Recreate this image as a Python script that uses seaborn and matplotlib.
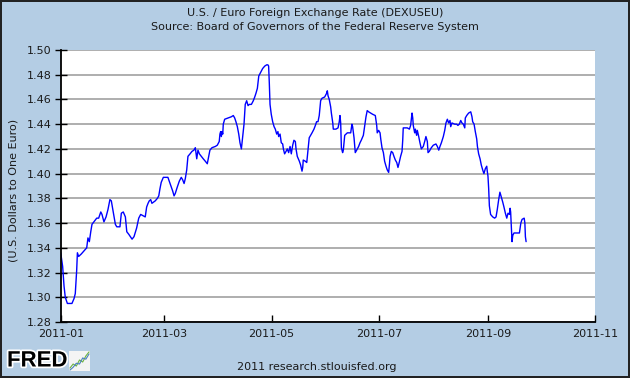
import numpy as np
import pandas as pd
import matplotlib
matplotlib.use("Agg")
import matplotlib.pyplot as plt
import matplotlib.dates as mdates
import matplotlib.patheffects as pe
import seaborn as sns

sns.set_theme(style="white")
plt.rcParams['font.family'] = ['DejaVu Sans']

# days since 2011-01-01 and the exchange rate
days = [
    0.0, 1.1, 1.9, 2.6, 3.8, 6.4, 7.6, 8.3, 9.1, 9.5, 10.2, 11.7, 13.6, 14.8, 15.5, 16.3,
    17.1, 17.8, 18.9, 20.5, 21.6, 22.8, 23.5, 24.6, 25.8, 26.9, 28.0, 28.8, 29.9, 31.1,
    31.9, 33.7, 34.5, 35.6, 36.8, 37.6, 38.7, 40.6, 41.7, 43.2, 44.4,
    45.5, 48.1, 48.9, 49.7, 50.4, 51.2, 51.9, 53.8, 55.0, 55.8, 56.5, 57.2, 58.4, 61.0,
    62.2, 62.9, 63.7, 64.5, 65.2, 66.3, 67.5, 68.6, 69.4, 70.2, 70.9, 71.7, 72.4, 73.6,
    74.7, 75.8, 76.6, 77.4, 78.1, 78.9, 80.0, 81.1, 82.3, 83.4, 84.2, 84.9, 86.1, 88.0, 89.1,
    90.2, 90.6, 91.0, 91.4, 91.8, 92.2, 92.5, 93.3, 95.2, 97.1, 98.2, 99.0, 99.7, 100.5,
    101.3, 102.0, 102.8, 103.5, 104.3, 105.0, 105.8, 106.6, 107.3, 108.5, 109.6, 110.4,
    111.1, 111.9, 112.7, 113.8, 114.9, 116.1, 117.2, 117.9, 118.3, 118.7, 119.1, 119.8,
    120.6, 121.4, 122.1, 122.9, 123.6, 124.0, 124.8, 125.5, 126.3, 126.7, 127.4, 128.2,
    128.9, 129.7, 130.5, 131.2, 132.0, 132.7, 133.5, 133.9, 134.6, 135.8,
    136.5, 137.3, 137.7, 138.0, 139.2, 140.0, 140.7, 141.4, 142.2, 143.0, 144.1, 144.9,
    145.6, 146.4, 147.1, 147.9, 148.7, 150.2, 151.3, 151.7, 152.1, 152.8, 153.6, 154.0,
    154.8, 155.1, 156.6, 157.8, 158.5, 158.9, 159.3, 159.7, 160.4, 160.8, 161.6, 163.1,
    163.9, 165.0, 165.7, 166.1, 166.9, 167.6, 168.4, 169.5, 170.3, 171.0, 172.2, 173.0,
    173.7, 174.4, 175.2, 176.4, 177.5, 179.0, 179.8, 180.1, 180.9,
    181.7, 182.1, 182.8, 183.6, 184.3, 185.1, 185.8, 186.6, 187.0, 187.4, 188.1, 188.9,
    189.6, 190.4, 191.2, 191.9, 192.6, 193.4, 194.2, 194.6, 194.9, 197.2, 198.4, 199.1,
    199.9, 200.3, 200.6, 201.4, 201.8, 202.5, 202.9, 203.7, 204.4, 205.2, 206.3, 207.1,
    207.8, 208.6, 209.0, 209.7, 210.9, 212.0, 213.5, 214.3, 215.1, 215.8, 216.6, 217.7,
    218.5, 219.2, 220.0, 220.7, 221.5, 221.9, 222.6, 224.2, 225.3, 226.0, 226.8,
    227.6, 228.3, 229.1, 229.9, 230.2, 231.0, 232.1, 233.3, 234.0, 234.4, 235.2, 235.9,
    236.7, 237.1, 237.8, 238.6, 239.3, 240.1, 240.8, 241.6, 242.4, 242.7, 243.1, 243.5,
    243.9, 244.6, 245.8, 246.9, 247.7, 248.4, 249.2, 249.9, 250.7, 251.5, 252.2, 253.0,
    253.8, 254.5, 255.3, 255.7, 256.0, 256.4, 256.8, 257.2, 257.9, 261.0, 261.4, 261.8,
    262.5, 263.7, 264.1, 264.4, 264.8,
]
rate = [
    1.336, 1.325, 1.309, 1.300, 1.295, 1.295, 1.299, 1.303, 1.322, 1.336, 1.333, 1.335, 1.338, 1.340, 1.348, 1.345,
    1.353, 1.359, 1.361, 1.364, 1.364, 1.369, 1.367, 1.361, 1.365, 1.371, 1.379, 1.378, 1.369, 1.359,
    1.357, 1.357, 1.368, 1.369, 1.365, 1.353, 1.351, 1.347, 1.349, 1.356, 1.364,
    1.367, 1.365, 1.373, 1.376, 1.378, 1.379, 1.376, 1.378, 1.380, 1.382, 1.388, 1.393, 1.397, 1.397,
    1.392, 1.389, 1.386, 1.382, 1.384, 1.389, 1.394, 1.397, 1.395, 1.392, 1.396, 1.403, 1.414, 1.416,
    1.418, 1.419, 1.421, 1.412, 1.419, 1.416, 1.414, 1.412, 1.410, 1.408, 1.414, 1.419, 1.421, 1.422, 1.423,
    1.426, 1.432, 1.434, 1.430, 1.434, 1.432, 1.440, 1.444, 1.445, 1.446, 1.447, 1.445, 1.442, 1.438,
    1.432, 1.425, 1.420, 1.429, 1.440, 1.456, 1.459, 1.455, 1.456, 1.456, 1.459, 1.462,
    1.465, 1.469, 1.479, 1.482, 1.485, 1.487, 1.488, 1.488, 1.487, 1.473, 1.456, 1.448,
    1.442, 1.438, 1.436, 1.432, 1.434, 1.430, 1.432, 1.425, 1.424, 1.420, 1.416, 1.418,
    1.420, 1.417, 1.422, 1.416, 1.423, 1.427, 1.426, 1.420, 1.414, 1.410,
    1.407, 1.402, 1.405, 1.411, 1.410, 1.409, 1.419, 1.429, 1.431, 1.433, 1.436, 1.439,
    1.442, 1.442, 1.447, 1.459, 1.461, 1.462, 1.465, 1.467, 1.463, 1.460, 1.454, 1.449,
    1.441, 1.436, 1.436, 1.437, 1.442, 1.447, 1.441, 1.421, 1.417, 1.419, 1.431, 1.433,
    1.433, 1.433, 1.440, 1.438, 1.429, 1.417, 1.419, 1.422, 1.425, 1.427, 1.431, 1.439,
    1.446, 1.451, 1.450, 1.449, 1.448, 1.447, 1.439, 1.433, 1.435,
    1.433, 1.428, 1.421, 1.417, 1.410, 1.406, 1.403, 1.401, 1.407, 1.414, 1.418, 1.417,
    1.414, 1.411, 1.409, 1.405, 1.409, 1.414, 1.418, 1.427, 1.437, 1.437, 1.436, 1.439,
    1.449, 1.445, 1.439, 1.433, 1.436, 1.431, 1.435, 1.430, 1.425, 1.420, 1.422, 1.426,
    1.430, 1.426, 1.417, 1.418, 1.421, 1.423, 1.424, 1.422, 1.419, 1.422, 1.425, 1.430,
    1.435, 1.441, 1.444, 1.441, 1.443, 1.438, 1.441, 1.440, 1.440, 1.439, 1.440,
    1.443, 1.441, 1.440, 1.437, 1.445, 1.447, 1.449, 1.450, 1.446, 1.442, 1.440, 1.434,
    1.428, 1.422, 1.416, 1.412, 1.407, 1.403, 1.400, 1.404, 1.406, 1.402, 1.398, 1.388,
    1.374, 1.367, 1.365, 1.364, 1.365, 1.371, 1.379, 1.385, 1.381, 1.377, 1.373, 1.368,
    1.364, 1.368, 1.367, 1.372, 1.369, 1.356, 1.345, 1.350, 1.352, 1.352, 1.356, 1.360,
    1.363, 1.364, 1.360, 1.349, 1.345,
]

yticks = np.arange(1.28, 1.501, 0.02)

# little chart icon next to the FRED logo
icon_x = [0, 1, 2, 3, 4, 5, 6]
icon_green = [1, 2, 1.5, 3, 2.5, 4, 5]
icon_blue = [0.5, 1.2, 2.2, 2, 3.5, 3.2, 4.5]

df = pd.DataFrame({
    'date': pd.Timestamp('2011-01-01') + pd.to_timedelta(days, unit='D'),
    'rate': rate,
})

bg = '#b4cde4'
txt = '#1a1a1a'
fig = plt.figure(figsize=(6.3, 3.78), dpi=100, facecolor=bg,
                 edgecolor='#222222', linewidth=1.5)
ax = fig.add_axes([60.7 / 630, 1 - 322 / 378, (595 - 60.7) / 630, 272 / 378])
ax.set_facecolor('white')

sns.lineplot(data=df, x='date', y='rate', ax=ax, color='#0000ff', linewidth=1.0)

ax.set_ylim(1.28, 1.50)
ax.set_yticks(yticks)
ax.set_yticklabels([f'{v:.2f}' for v in yticks])
ax.set_xlim(pd.Timestamp('2011-01-01'), pd.Timestamp('2011-11-01'))
ax.xaxis.set_major_locator(mdates.MonthLocator(bymonth=[1, 3, 5, 7, 9, 11]))
ax.xaxis.set_major_formatter(mdates.DateFormatter('%Y-%m'))

ax.grid(axis='y', color='#a8a8a8', linewidth=1.3)
ax.grid(axis='x', visible=False)
ax.set_axisbelow(True)
for s in ['top', 'right']:
    ax.spines[s].set_visible(False)
for s in ['left', 'bottom']:
    ax.spines[s].set_color('black')
    ax.spines[s].set_linewidth(1.3)

ax.tick_params(axis='y', direction='inout', length=9, width=1, color='black',
               labelsize=8, labelcolor=txt, pad=2, left=True)
ax.tick_params(axis='x', direction='in', length=5, width=1, color='black',
               labelsize=8, labelcolor=txt, pad=5, bottom=True)
ax.set_xlabel('')
ax.set_ylabel('')

fig.text(14 / 630, 1 - 190 / 378, '(U.S. Dollars to One Euro)', rotation=90,
         ha='center', va='center', fontsize=8, color=txt)
fig.text(0.5, 1 - 13 / 378, 'U.S. / Euro Foreign Exchange Rate (DEXUSEU)',
         ha='center', va='center', fontsize=8, color=txt)
fig.text(0.5, 1 - 27 / 378, 'Source: Board of Governors of the Federal Reserve System',
         ha='center', va='center', fontsize=8, color=txt)
fig.text(317 / 630, 1 - 367 / 378, '2011 research.stlouisfed.org',
         ha='center', va='center', fontsize=8, color=txt)

logo = fig.text(7 / 630, 1 - 361 / 378, 'FRED', ha='left', va='center',
                fontsize=16, fontweight='bold', family='Liberation Sans', color='black')
logo.set_path_effects([pe.withStroke(linewidth=2.5, foreground='white')])

icon = fig.add_axes([69 / 630, 1 - 371 / 378, 21 / 630, 20 / 378])
icon.set_facecolor('#f4f4f4')
icon.plot(icon_x, icon_green, color='#6cb33f', linewidth=0.8)
icon.plot(icon_x, icon_blue, color='#4a7fc1', linewidth=0.8)
icon.set_xticks([])
icon.set_yticks([])
for s in icon.spines.values():
    s.set_visible(False)

fig.savefig('out.png', dpi=100, facecolor=fig.get_facecolor(),
            edgecolor=fig.get_edgecolor())
